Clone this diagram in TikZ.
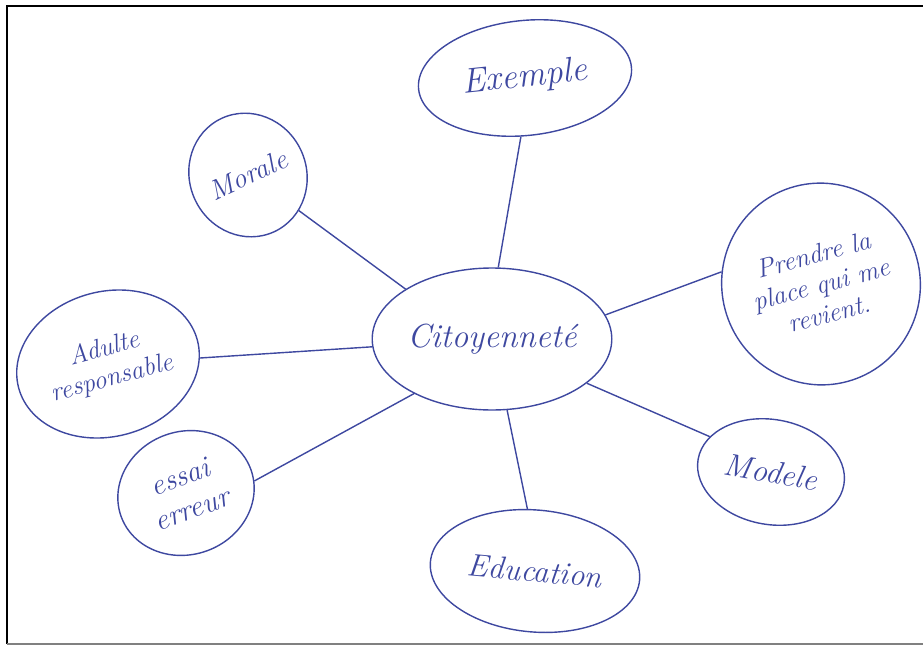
\documentclass[tikz,border=0pt]{standalone}
\usepackage{tikz,xcolor}
\usetikzlibrary{shapes.geometric}
\definecolor{ink}{RGB}{62,72,160}
\newcommand{\hand}[1]{\fontsize{#1}{1.15\dimexpr #1pt\relax}\selectfont\itshape}

\begin{document}
\begin{tikzpicture}[x=0.02cm,y=-0.02cm]
\useasboundingbox (0,0) rectangle (923,646);
    %scan frame
    \draw[line width=1.3pt] (7,644) -- (7,6) -- (923,6);
    \draw[gray,line width=1pt] (7,644) -- (923,644);
\tikzstyle{every node}=[draw=ink,text=ink,ellipse,line width=.8pt,inner sep=0pt,align=center]
    \node[minimum width=4.5cm,minimum height=2.84cm,font=\hand{19}](cit) at (492,339){Citoyennet\'e};
    \node[minimum width=4.28cm,minimum height=2.3cm,rotate=6,font=\hand{20}](exemple) at (525,78){Exemple};
    \node[minimum width=2.3cm,minimum height=2.5cm,rotate=25,font=\hand{16}](morale) at (248,175){Morale};
    \node[minimum width=3.96cm,minimum height=4.04cm,rotate=15,font=\hand{15}](prendre) at (821,284){Prendre la\\ place qui me\\ revient.};
    \node[minimum width=3.7cm,minimum height=2.9cm,rotate=15,font=\hand{15}](adulte) at (108,364){Adulte\\ responsable};
    \node[minimum width=2.76cm,minimum height=2.46cm,rotate=20,font=\hand{17}](essai) at (186,493){essai\\ erreur};
    \node[minimum width=2.96cm,minimum height=2.1cm,rotate=-10,font=\hand{18}](modele) at (771,472){Modele};
    \node[minimum width=4.2cm,minimum height=2.44cm,rotate=-5,font=\hand{18}](education) at (535,571){Education};
\tikzstyle{every node}=[]
  \begin{scope}[ink,line width=.8pt]
    \draw (cit.85) -- (exemple.-100);
    \draw (morale.-60) -- (cit.150);
    \draw (adulte) -- (cit);
    \draw (essai.-10) -- (cit.215);
    \draw (cit.-78) -- (education.102);
    \draw (cit.-25) -- (modele.160);
    \draw (cit.12) -- (prendre.158);
  \end{scope}
\end{tikzpicture}
\end{document}
